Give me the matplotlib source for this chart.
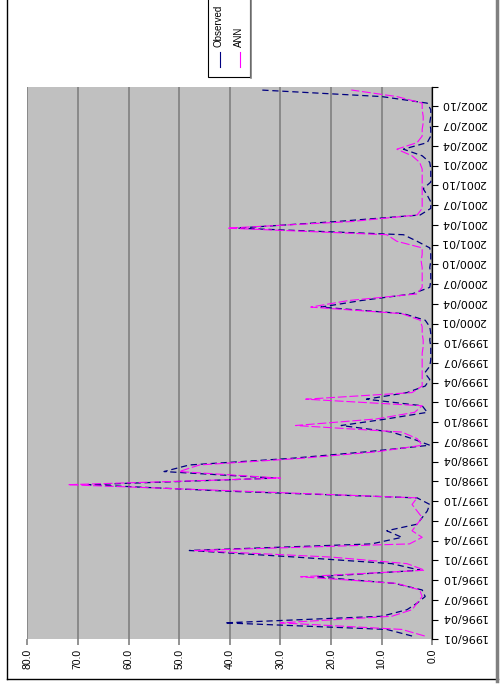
import matplotlib
matplotlib.use("Agg")
import matplotlib.pyplot as plt
from matplotlib.lines import Line2D
from matplotlib.patches import Rectangle
import numpy as np

plt.rcParams['font.family'] = ['Liberation Sans', 'DejaVu Sans']

# monthly values, 1996/01 .. 2002/12
observed = [4, 9, 41, 10, 5, 3, 1.4, 2, 7.5, 23,
            2.4, 8, 27, 48, 12, 6, 9, 3, 2, 1,
            0.5, 3, 40, 68, 31, 53, 48, 28, 13, 0.5,
            4, 8, 18, 9, 1, 2, 13, 5, 1.4, 0.5,
            1.5, 0.5, 0.3, 0.3, 0.3, 0.5, 0.3, 0.5, 1.4, 5.7,
            22, 14, 4, 0.5, 0.3, 0.3, 0.5, 0.3, 0.3, 0.5,
            3, 5.7, 38.5, 19, 2.4, 0.3, 0.3, 1, 1.8, 0.3,
            0.3, 0.3, 0.5, 2, 5.7, 1, 0.3, 0.3, 0.5, 0.3,
            0.3, 1, 10, 34]
ann = [1.5, 6, 30, 8, 4, 3, 2, 2.5, 7, 26,
       1.5, 5, 20, 47, 4.5, 2, 4, 3, 2, 3,
       4, 3, 37, 72, 30, 50, 46, 26, 11, 2,
       3, 6, 27, 11, 3.5, 2, 25, 4, 2, 2,
       2, 2, 2, 2, 1.8, 1.8, 2, 2, 2.4, 6,
       24, 16.5, 3, 2, 2, 2, 2, 2.2, 2, 2,
       7, 9, 40.5, 16, 3, 2, 2, 2, 2, 2,
       2, 2, 2.5, 4, 7, 3, 2, 2, 1.8, 1.8,
       2, 2, 7, 16]

date_labels = ["1996/01", "1996/04", "1996/07", "1996/10",
               "1997/01", "1997/04", "1997/07", "1997/10",
               "1998/01", "1998/04", "1998/07", "1998/10",
               "1999/01", "1999/04", "1999/07", "1999/10",
               "2000/01", "2000/04", "2000/07", "2000/10",
               "2001/01", "2001/04", "2001/07", "2001/10",
               "2002/01", "2002/04", "2002/07", "2002/10"]
value_ticks = [0, 10, 20, 30, 40, 50, 60, 70, 80]
series_names = ["Observed", "ANN"]
series_colors = ["#000080", "#ff00ff"]

W, H = 501, 685
fig = plt.figure(figsize=(W / 100, H / 100), dpi=100)


def fx(px):
    return px / W


def fy(py):
    return 1 - py / H


# plot area (chart is turned on its side: values run right to left)
left, right, top, bottom = 27.3, 432.3, 86.7, 639.3
ax = fig.add_axes([fx(left), fy(bottom), fx(right) - fx(left), fy(top) - fy(bottom)])
ax.set_facecolor('#c0c0c0')

idx = np.arange(len(observed))
ax.plot(observed, idx, color=series_colors[0], lw=0.9, ls=(0, (5, 3)), zorder=3)
ax.plot(ann, idx, color=series_colors[1], lw=0.8, ls=(0, (8, 2.5)), zorder=3)

ax.set_xlim(80, 0)
ax.set_ylim(-0.5, len(observed) - 0.5)

ax.set_xticks(value_ticks)
ax.set_xticklabels([f"{v:.1f}" for v in value_ticks], rotation=90, fontsize=7.5)
ax.xaxis.grid(True, color='#808080', lw=1.2)
ax.set_axisbelow(True)
ax.tick_params(axis='x', length=4, color='#808080', width=1.2, pad=3)

ax.yaxis.tick_right()
ax.set_yticks(np.arange(-0.5, len(observed), 3))
ax.set_yticklabels([])
ax.set_yticks(np.arange(0, len(observed), 3), minor=True)
ax.set_yticklabels(date_labels, minor=True, rotation=180, fontsize=8,
                   family=['DejaVu Sans'])
ax.tick_params(axis='y', which='minor', length=0, pad=6)
ax.tick_params(axis='y', which='major', length=4, color='black', width=0.8)

for s in ['top', 'left', 'bottom']:
    ax.spines[s].set_visible(False)
ax.spines['right'].set_color('black')
ax.spines['right'].set_linewidth(0.9)

# overlay for chart frame and legend, in pixel units
ov = fig.add_axes([0, 0, 1, 1], zorder=5)
ov.set_xlim(0, W)
ov.set_ylim(H, 0)
ov.axis('off')
ov.patch.set_alpha(0)

ov.add_line(Line2D([7.5, 7.5], [0, 679], color='black', lw=1.0))
ov.add_line(Line2D([7, 498], [679, 679], color='black', lw=1.0))
ov.add_line(Line2D([497, 497], [0, 681], color='#808080', lw=2.5))

ov.add_patch(Rectangle((208, -5), 42, 82, facecolor='white', edgecolor='black', lw=0.8))
ov.add_line(Line2D([251, 251], [0, 78], color='#808080', lw=1.2))
for k, (name, col) in enumerate(zip(series_names, series_colors)):
    xc = 219 + 20 * k
    ov.text(xc, 47, name, rotation=90, ha='center', va='bottom', fontsize=7)
    ov.add_line(Line2D([xc + 1, xc + 1], [52, 67], color=col, lw=0.8))

fig.savefig("out.png", dpi=100)
